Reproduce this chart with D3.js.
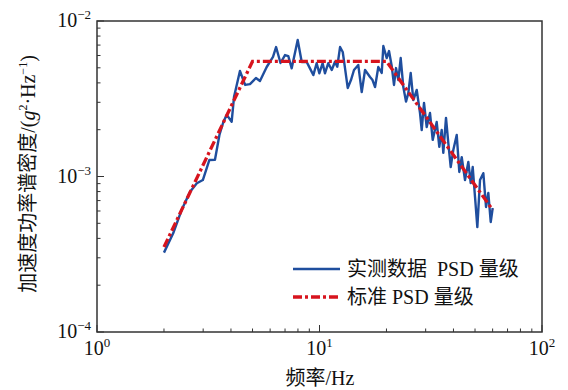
<!DOCTYPE html>
<html><head><meta charset="utf-8">
<script src="https://cdn.jsdelivr.net/npm/d3@7"></script>
<style>body{margin:0;background:#fff}svg{display:block}</style>
</head><body><svg id="c" width="568" height="390"></svg>
<script>
// measured PSD (Hz, g^2/Hz)
const measFreq = [2.00,2.20,2.40,2.62,2.81,2.99,3.20,3.39,3.55,3.70,3.83,4.03,4.13,4.39,4.63,4.87,5.18,5.40,5.79,6.18,6.38,6.68,7.00,7.24,7.50,7.98,8.32,8.76,9.06,9.38,9.71,9.98,10.33,10.58,10.95,11.35,11.74,12.02,12.37,12.72,13.02,13.39,13.85,14.29,14.94,15.48,16.02,16.87,17.31,17.77,18.38,19.04,19.36,20.04,20.53,21.11,21.62,22.07,22.61,23.17,23.81,24.48,25.07,25.70,26.41,27.35,28.30,28.80,29.49,30.33,31.38,32.27,33.63,34.55,35.42,36.01,37.03,37.93,38.88,39.94,41.37,42.50,43.57,45.08,46.65,47.83,48.82,50.00,51.21,52.66,54.49,56.03,57.38,58.82,60.03];
const measPSD = [3.24e-4,4.31e-4,6.09e-4,7.98e-4,9.04e-4,9.49e-4,1.277e-3,1.28e-3,1.849e-3,2.25e-3,2.49e-3,2.25e-3,3.26e-3,4.77e-3,3.88e-3,3.93e-3,4.30e-3,4.11e-3,5.06e-3,5.87e-3,6.80e-3,5.37e-3,6.04e-3,5.95e-3,4.96e-3,7.55e-3,5.45e-3,5.45e-3,4.96e-3,4.49e-3,5.35e-3,4.61e-3,5.35e-3,4.61e-3,5.35e-3,4.84e-3,5.47e-3,5.08e-3,6.80e-3,6.32e-3,4.98e-3,3.71e-3,4.17e-3,4.84e-3,5.21e-3,3.49e-3,4.84e-3,4.36e-3,4.17e-3,3.76e-3,5.06e-3,4.63e-3,6.91e-3,5.78e-3,6.41e-3,5.13e-3,3.88e-3,4.98e-3,4.17e-3,5.78e-3,3.76e-3,3.03e-3,3.44e-3,4.63e-3,3.10e-3,3.60e-3,2.56e-3,1.99e-3,2.97e-3,2.08e-3,2.56e-3,1.72e-3,2.24e-3,1.55e-3,1.99e-3,1.42e-3,2.38e-3,1.64e-3,1.15e-3,1.48e-3,1.85e-3,1.07e-3,1.33e-3,9.49e-4,1.24e-3,9.08e-4,1.15e-3,7.38e-4,4.73e-4,9.49e-4,1.05e-3,6.37e-4,7.83e-4,5.10e-4,6.27e-4];
// standard PSD profile
const stdFreq = [2, 5, 20, 60];
const stdPSD = [3.52e-4, 5.5e-3, 5.5e-3, 6.1e-4];
// axes
const xTicks = [1, 10, 100];
const xTickExp = ["0", "1", "2"];
const yTicks = [1e-4, 1e-3, 1e-2];
const yTickExp = ["\u22124", "\u22123", "\u22122"];
const legendLabels = ["实测数据\u00a0\u00a0PSD 量级", "标准 PSD 量级"];

const svg = d3.select("#c");
const L = 97, R = 542, T = 21, B = 332;
const x = d3.scaleLog().domain([1, 100]).range([L, R]);
const y = d3.scaleLog().domain([1e-4, 1e-2]).range([B, T]);
const serif = "'Liberation Serif','Times New Roman',serif";
const cjk = "'Liberation Serif','Noto Sans CJK SC',serif";
const axisColor = "#333";

// minor/major ticks
const xMinor = [];
for (let d = 1; d < 100; d *= 10) for (let k = 2; k <= 9; k++) xMinor.push(d * k);
const yMinor = [];
for (let d = 1e-4; d < 1e-2 * 0.99; d *= 10) for (let k = 2; k <= 9; k++) yMinor.push(d * k);

const g = svg.append("g");
g.selectAll(".xm").data(xMinor).enter().append("line")
  .attr("x1", d => x(d)).attr("x2", d => x(d)).attr("y1", B).attr("y2", B - 3.5)
  .attr("stroke", axisColor).attr("stroke-width", 1);
g.selectAll(".xM").data(xTicks).enter().append("line")
  .attr("x1", d => x(d)).attr("x2", d => x(d)).attr("y1", B).attr("y2", B - 7)
  .attr("stroke", axisColor).attr("stroke-width", 1);
g.selectAll(".ym").data(yMinor).enter().append("line")
  .attr("y1", d => y(d)).attr("y2", d => y(d)).attr("x1", L).attr("x2", L + 3.5)
  .attr("stroke", axisColor).attr("stroke-width", 1);
g.selectAll(".yM").data(yTicks).enter().append("line")
  .attr("y1", d => y(d)).attr("y2", d => y(d)).attr("x1", L).attr("x2", L + 7)
  .attr("stroke", axisColor).attr("stroke-width", 1);

// tick labels
xTicks.forEach((t, i) => {
  const tx = svg.append("text").attr("x", x(t)).attr("y", 355)
    .attr("text-anchor", "middle").attr("font-family", serif).attr("font-size", 20).attr("fill", "#111");
  tx.append("tspan").text("10");
  tx.append("tspan").attr("font-size", 13).attr("dy", -8).text(xTickExp[i]);
});
yTicks.forEach((t, i) => {
  const ty = svg.append("text").attr("x", 91).attr("y", y(t) + 6)
    .attr("text-anchor", "end").attr("font-family", serif).attr("font-size", 20).attr("fill", "#111");
  ty.append("tspan").text("10");
  ty.append("tspan").attr("font-size", 13).attr("dy", -8).text(yTickExp[i]);
});

// clip
svg.append("clipPath").attr("id", "clip").append("rect")
  .attr("x", L).attr("y", T).attr("width", R - L).attr("height", B - T);

const line = d3.line().x(d => x(d[0])).y(d => y(d[1]));
const meas = measFreq.map((f, i) => [f, measPSD[i]]);
const std = stdFreq.map((f, i) => [f, stdPSD[i]]);
const blue = "#1f4e9e", red = "#d7141e";

svg.append("path").attr("clip-path", "url(#clip)").attr("d", line(meas))
  .attr("fill", "none").attr("stroke", blue).attr("stroke-width", 2.4).attr("stroke-linejoin", "round");
svg.append("path").attr("clip-path", "url(#clip)").attr("d", line(std))
  .attr("fill", "none").attr("stroke", red).attr("stroke-width", 3.3)
  .attr("stroke-dasharray", "9,3,3,3");

// frame
svg.append("rect").attr("x", L).attr("y", T).attr("width", R - L).attr("height", B - T)
  .attr("fill", "none").attr("stroke", axisColor).attr("stroke-width", 1.5);

// legend
const lg = svg.append("g");
[[blue, null, 269, 276], [red, "9,3,3,3", 297, 304]].forEach((c, i) => {
  const ln = lg.append("line").attr("x1", 293).attr("x2", 340).attr("y1", c[2]).attr("y2", c[2])
    .attr("stroke", c[0]).attr("stroke-width", i ? 3.3 : 2.4);
  if (c[1]) ln.attr("stroke-dasharray", c[1]);
  lg.append("text").attr("x", 347).attr("y", c[3]).attr("font-family", cjk).attr("font-size", 20)
    .attr("fill", "#111").text(legendLabels[i]);
});

// axis titles
svg.append("text").attr("x", 320).attr("y", 385).attr("text-anchor", "middle")
  .attr("font-family", cjk).attr("font-size", 20).attr("fill", "#111").text("频率/Hz");
const yt = svg.append("text").attr("transform", "translate(35,174) rotate(-90)")
  .attr("text-anchor", "middle").attr("font-family", cjk).attr("font-size", 20).attr("fill", "#111");
yt.append("tspan").text("加速度功率谱密度/(");
yt.append("tspan").attr("font-style", "italic").text("g");
yt.append("tspan").attr("font-size", 12).attr("dy", -8).text("2");
yt.append("tspan").attr("dy", 8).text("·Hz");
yt.append("tspan").attr("font-size", 12).attr("dy", -8).text("\u22121");
yt.append("tspan").attr("dy", 8).text(")");
</script></body></html>
